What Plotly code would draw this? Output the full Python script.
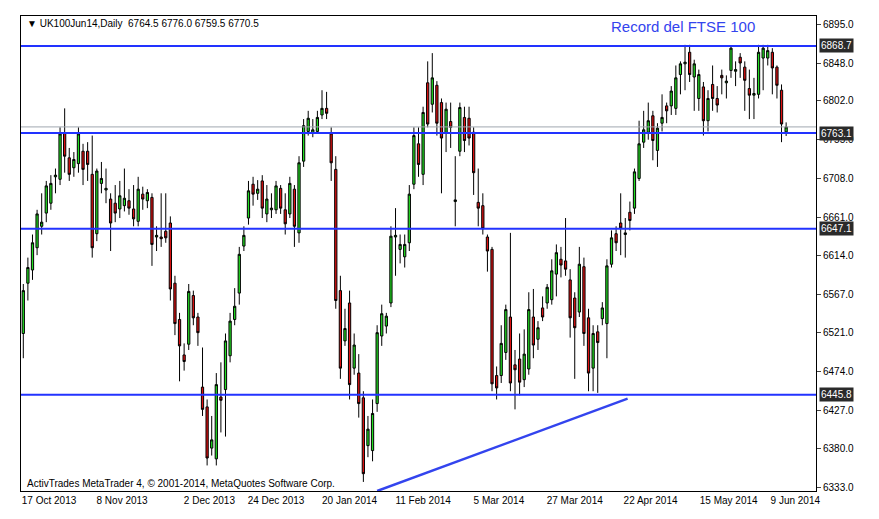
import plotly.graph_objects as go

opens = [6520,6581,6597,6624,6650,6666,6678,6710,6707,6763,6733,6721,6726,6741,6741,6713,6641,6702,6694,6683,
6678,6671,6675,6681,6671,6656,6689,6681,6685,6637,6637,6644,6654,6581,6537,6494,6507,6566,6540,6455,
6431,6381,6368,6443,6452,6493,6537,6569,6626,6660,6701,6690,6705,6665,6670,6670,6696,6670,6665,6695,
6642,6729,6765,6763,6765,6785,6793,6762,6719,6572,6511,6557,6478,6472,6442,6384,6378,6435,6517,6529,
6557,6637,6622,6613,6630,6701,6750,6713,6824,6798,6821,6800,6763,6777,6680,6741,6782,6781,6764,6679,
6675,6637,6622,6469,6469,6497,6540,6482,6489,6464,6477,6540,6513,6551,6557,6561,6592,6610,6608,6585,
6563,6546,6601,6539,6478,6522,6538,6532,6604,6641,6654,6640,6667,6672,6708,6752,6764,6784,6742,6775,
6796,6796,6793,6834,6847,6861,6831,6805,6819,6778,6822,6805,6833,6824,6839,6838,6855,6843,6817,6809,
6810,6854,6854,6861,6843,6815,6764.5]
closes = [6572,6600,6630,6665,6655,6699,6702,6712,6762,6735,6713,6731,6762,6719,6725,6624,6717,6708,6696,6654,
6666,6687,6684,6672,6659,6695,6683,6691,6628,6639,6635,6636,6574,6532,6505,6486,6571,6539,6521,6428,
6369,6391,6458,6439,6511,6535,6553,6616,6639,6693,6689,6695,6672,6683,6672,6699,6672,6653,6702,6650,
6727,6772,6781,6767,6782,6793,6787,6727,6560,6478,6526,6458,6506,6435,6350,6404,6423,6521,6544,6541,
6638,6639,6628,6628,6689,6760,6725,6788,6774,6830,6775,6757,6792,6770,6682,6794,6754,6757,6715,6672,
6647,6620,6459,6454,6508,6549,6460,6476,6461,6495,6549,6506,6527,6540,6576,6596,6618,6603,6598,6539,
6527,6604,6520,6472,6520,6509,6551,6602,6636,6630,6648,6642,6657,6716,6750,6767,6778,6754,6769,6782,
6790,6814,6830,6847,6849,6834,6847,6834,6778,6805,6805,6797,6830,6826,6866,6840,6848,6827,6809,6811,
6861,6866,6863,6842,6821,6774,6770.5]
highs = [6580,6612,6640,6670,6690,6705,6712,6720,6770,6793,6745,6740,6770,6750,6752,6760,6720,6728,6720,6690,
6700,6705,6720,6695,6700,6710,6698,6695,6690,6650,6690,6690,6662,6590,6545,6508,6580,6572,6545,6503,
6440,6420,6472,6485,6520,6545,6575,6625,6650,6705,6710,6706,6712,6700,6690,6705,6700,6690,6710,6700,
6735,6780,6790,6780,6790,6815,6813,6770,6735,6590,6550,6572,6520,6495,6450,6420,6440,6530,6555,6545,
6650,6672,6640,6640,6700,6770,6770,6795,6850,6860,6826,6805,6800,6800,6735,6800,6795,6795,6770,6720,
6690,6640,6625,6480,6530,6555,6642,6500,6520,6525,6570,6574,6535,6565,6580,6610,6628,6625,6660,6598,
6570,6625,6612,6550,6530,6530,6558,6610,6645,6650,6690,6660,6680,6720,6778,6790,6800,6790,6775,6810,
6800,6820,6845,6850,6870,6870,6852,6840,6825,6815,6845,6820,6840,6833,6868,6850,6860,6850,6840,6830,
6870,6870,6870,6866,6845,6822,6776]
lows = [6490,6560,6585,6615,6640,6655,6670,6690,6700,6715,6705,6710,6715,6700,6705,6612,6632,6690,6678,6620,
6655,6660,6668,6664,6650,6650,6670,6672,6602,6620,6625,6630,6560,6518,6462,6475,6500,6530,6505,6420,
6360,6372,6360,6400,6395,6485,6530,6555,6620,6652,6675,6682,6660,6655,6660,6665,6665,6640,6660,6625,
6630,6722,6760,6758,6762,6780,6780,6705,6550,6465,6505,6440,6470,6418,6340,6370,6365,6425,6505,6520,
6552,6590,6605,6600,6620,6695,6710,6700,6770,6788,6760,6690,6740,6745,6650,6735,6740,6748,6688,6650,
6640,6595,6450,6440,6460,6488,6450,6428,6445,6455,6470,6490,6500,6535,6550,6555,6565,6588,6590,6515,
6465,6540,6505,6450,6450,6448,6530,6490,6600,6620,6615,6612,6645,6665,6705,6745,6755,6730,6722,6765,
6775,6785,6785,6810,6815,6825,6790,6790,6760,6765,6790,6788,6810,6805,6830,6820,6830,6790,6780,6780,
6805,6815,6845,6810,6805,6752,6759.5]

levels = [6868.7, 6763.1, 6647.1, 6445.8]
y_ticks = [6895.0, 6848.0, 6802.0, 6755.0, 6708.0, 6661.0, 6614.0, 6567.0, 6521.0, 6474.0, 6427.0, 6380.0, 6333.0]
x_labels = ["17 Oct 2013", "8 Nov 2013", "2 Dec 2013", "24 Dec 2013", "20 Jan 2014", "11 Feb 2014",
            "5 Mar 2014", "27 Mar 2014", "22 Apr 2014", "15 May 2014", "9 Jun 2014"]
x_label_pos = [5.6, 21.5, 40.5, 55.0, 71.0, 87.0, 103.5, 120.0, 136.5, 153.5, 168.0]
trend_x = [77.0, 131.5]
trend_y = [6329, 6441]
last_close = 6770.5

idx = list(range(len(opens)))
fig = go.Figure()
fig.add_trace(go.Candlestick(
    x=idx, open=opens, high=highs, low=lows, close=closes,
    increasing=dict(line=dict(color="black", width=1), fillcolor="#22dd22"),
    decreasing=dict(line=dict(color="black", width=1), fillcolor="#dd1111"),
    whiskerwidth=0, hoverinfo="skip", showlegend=False))
fig.add_trace(go.Scatter(x=trend_x, y=trend_y, mode="lines",
                         line=dict(color="#3344ee", width=2.5), showlegend=False, hoverinfo="skip"))

shapes = [dict(type="line", xref="paper", x0=0, x1=1, y0=last_close, y1=last_close,
               line=dict(color="#a0a8b0", width=1))]
for lv in levels:
    shapes.append(dict(type="line", xref="paper", x0=0, x1=1, y0=lv, y1=lv,
                       line=dict(color="#2233ff", width=2)))
annotations = []
for lv in levels:
    annotations.append(dict(xref="paper", x=1.004, y=lv, xanchor="left", yanchor="middle",
                            text=f"{lv:.1f}", showarrow=False, bgcolor="#2a2a2a",
                            font=dict(color="white", size=10, family="Liberation Sans"),
                            borderpad=1))
annotations += [
    dict(xref="paper", yref="paper", x=0.74, y=1.0, xanchor="left", yanchor="top",
         text="Record del FTSE 100", showarrow=False,
         font=dict(color="#3344ee", size=15, family="Liberation Sans")),
    dict(xref="paper", yref="paper", x=0.005, y=1.0, xanchor="left", yanchor="top",
         text="▼ UK100Jun14,Daily  6764.5 6776.0 6759.5 6770.5", showarrow=False,
         font=dict(color="black", size=10, family="Liberation Sans")),
    dict(xref="paper", yref="paper", x=0.005, y=0.0, xanchor="left", yanchor="bottom",
         text="ActivTrades MetaTrader 4, © 2001-2014, MetaQuotes Software Corp.", showarrow=False,
         font=dict(color="black", size=10, family="Liberation Sans")),
]

fig.update_layout(
    width=879, height=519, margin=dict(l=13, r=71, t=8, b=36),
    paper_bgcolor="white", plot_bgcolor="white",
    shapes=shapes, annotations=annotations,
    xaxis=dict(range=[-0.5, 172.5], rangeslider=dict(visible=False), showgrid=False, zeroline=False,
               tickvals=x_label_pos, ticktext=x_labels, ticks="", showline=True, mirror=True,
               linecolor="black", linewidth=1, tickfont=dict(size=10, family="Liberation Sans", color="black")),
    yaxis=dict(range=[6329, 6905], side="right", showgrid=False, zeroline=False,
               tickvals=y_ticks, ticktext=[f"{v:.1f}" for v in y_ticks], ticks="outside", ticklen=4,
               showline=True, mirror=True, linecolor="black", linewidth=1,
               tickfont=dict(size=10, family="Liberation Sans", color="black")),
)
fig.write_html("out.html")
